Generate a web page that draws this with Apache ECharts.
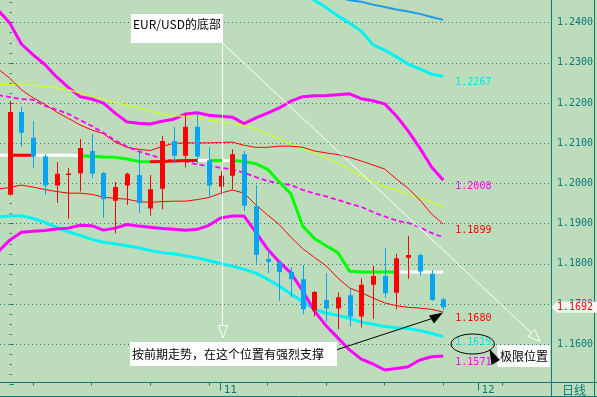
<!DOCTYPE html>
<html>
<head>
<meta charset="utf-8">
<script src="https://cdn.jsdelivr.net/npm/echarts@6.0.0/dist/echarts.min.js"></script>
<style>
html,body{margin:0;padding:0;background:#bddcbc;overflow:hidden;}
#chart{width:597px;height:397px;}
</style>
</head>
<body>
<div id="chart"></div>
<script>
// ---------- data ----------
// daily candles, index 0..37
const candleOpen  = [1.1972,1.2178,1.2114,1.2067,1.1995,1.2022,1.2025,1.2081,1.2026,1.1957,1.1995,1.2021,1.1938,1.1987,1.2106,1.2069,1.2141,1.2058,1.1992,1.2019,1.2073,1.1944,1.1812,1.1805,1.1780,1.1762,1.1684,1.1710,1.1689,1.1722,1.1669,1.1748,1.1770,1.1728,1.1815,1.1822,1.1775,1.1712];
const candleClose = [1.2178,1.2126,1.2067,1.1995,1.2024,1.2025,1.2088,1.2025,1.1961,1.1991,1.2024,1.1951,1.1986,1.2106,1.2069,1.2141,1.2067,1.1995,1.2019,1.2073,1.1945,1.1823,1.1805,1.1779,1.1762,1.1687,1.1730,1.1689,1.1717,1.1669,1.1748,1.1770,1.1727,1.1814,1.1822,1.1781,1.1710,1.1692];
const candleLow   = [1.1970,1.2092,1.2039,1.1972,1.1952,1.1912,1.1980,1.2013,1.1915,1.1876,1.1947,1.1927,1.1920,1.1936,1.2050,1.2040,1.2050,1.1967,1.1974,1.1986,1.1932,1.1801,1.1777,1.1708,1.1717,1.1675,1.1669,1.1656,1.1637,1.1644,1.1642,1.1663,1.1715,1.1687,1.1763,1.1771,1.1708,1.1685];
const candleHigh  = [1.2205,1.2191,1.2155,1.2073,1.2053,1.2039,1.2111,1.2123,1.2029,1.2004,1.2027,1.2079,1.2021,1.2118,1.2141,1.2175,1.2175,1.2090,1.2031,1.2085,1.2081,1.1996,1.1835,1.1807,1.1792,1.1797,1.1733,1.1777,1.1729,1.1739,1.1764,1.1795,1.1839,1.1825,1.1869,1.1826,1.1785,1.1716];
const candleStart = 0;

// indicator lines, index -1..37
const lineStart = -1;
const upperMagenta = [1.2432,1.2399,1.2347,1.2320,1.2296,1.2265,1.2239,1.2216,1.2210,1.2200,1.2175,1.2153,1.2150,1.2148,1.2155,1.2160,1.2173,1.2176,1.2170,1.2167,1.2165,1.2149,1.2163,1.2175,1.2188,1.2205,1.2216,1.2218,1.2219,1.2221,1.2223,1.2211,1.2206,1.2198,1.2168,1.2131,1.2088,1.2041,1.2008];
const yellowLine   = [1.2248,1.2246,1.2245,1.2244,1.2241,1.2238,1.2233,1.2225,1.2218,1.2209,1.2201,1.2195,1.2188,1.2180,1.2173,1.2169,1.2167,1.2163,1.2158,1.2154,1.2149,1.2144,1.2136,1.2123,1.2111,1.2098,1.2086,1.2076,1.2063,1.2051,1.2036,1.2019,1.2004,1.1993,1.1984,1.1974,1.1964,1.1953,1.1942];
const redUpper     = [1.2285,1.2262,1.2233,1.2213,1.2197,1.2178,1.2162,1.2146,1.2133,1.2124,1.2103,1.2090,1.2085,1.2082,1.2092,1.2100,1.2101,1.2101,1.2101,1.2102,1.2103,1.2095,1.2090,1.2090,1.2093,1.2093,1.2090,1.2081,1.2076,1.2072,1.2065,1.2056,1.2046,1.2036,1.2011,1.1988,1.1959,1.1924,1.1899];
const dashedMagenta= [1.2220,1.2215,1.2210,1.2208,1.2193,1.2184,1.2173,1.2158,1.2143,1.2126,1.2107,1.2092,1.2080,1.2071,1.2062,1.2056,1.2055,1.2047,1.2044,1.2039,1.2035,1.2027,1.2016,1.2006,1.2001,1.1996,1.1984,1.1975,1.1968,1.1959,1.1950,1.1942,1.1929,1.1918,1.1908,1.1902,1.1891,1.1877,1.1866];
const midLine      = [1.2070,1.2070,1.2070,1.2070,1.2070,1.2070,1.2070,1.2069,1.2068,1.2066,1.2065,1.2061,1.2055,1.2054,1.2055,1.2056,1.2057,1.2057,1.2057,1.2057,1.2057,1.2055,1.2049,1.2036,1.2004,1.1974,1.1894,1.1863,1.1845,1.1828,1.1782,1.1780,1.1780,1.1780,1.1780,1.1780,1.1780,1.1780,1.1780];
const redLower     = [1.1986,1.1990,1.1996,1.1991,1.1985,1.1980,1.1976,1.1976,1.1973,1.1966,1.1963,1.1961,1.1955,1.1953,1.1955,1.1956,1.1956,1.1960,1.1965,1.1976,1.1984,1.1976,1.1947,1.1922,1.1898,1.1866,1.1838,1.1816,1.1795,1.1765,1.1740,1.1729,1.1715,1.1703,1.1696,1.1692,1.1690,1.1687,1.1680];
const lowerMagenta = [1.1830,1.1859,1.1879,1.1881,1.1883,1.1887,1.1889,1.1896,1.1895,1.1884,1.1889,1.1898,1.1894,1.1891,1.1888,1.1886,1.1884,1.1886,1.1896,1.1914,1.1919,1.1919,1.1879,1.1837,1.1805,1.1777,1.1733,1.1683,1.1646,1.1616,1.1586,1.1563,1.1551,1.1536,1.1540,1.1544,1.1561,1.1569,1.1571];
const lowerCyan    = [1.1917,1.1919,1.1920,1.1913,1.1903,1.1891,1.1880,1.1871,1.1861,1.1854,1.1850,1.1845,1.1840,1.1833,1.1828,1.1825,1.1820,1.1815,1.1808,1.1801,1.1794,1.1787,1.1777,1.1762,1.1745,1.1725,1.1706,1.1687,1.1678,1.1672,1.1665,1.1655,1.1650,1.1644,1.1641,1.1639,1.1634,1.1627,1.1619];
const upperCyanStart = 25;
const upperCyan    = [1.2476,1.2456,1.2438,1.2417,1.2399,1.2379,1.2345,1.2332,1.2315,1.2297,1.2285,1.2272,1.2267];
const blueTopStart = 28;
const blueTop      = [1.2464,1.2456,1.2452,1.2445,1.2439,1.2433,1.2428,1.2422,1.2414,1.2407];

// colour change points of the middle line (x index) and its colours
const midBreaks = [0.1, 2, 6, 12, 16, 17.1, 18.1, 19.05, 32.9];
const midColors = ['#ffffff','#ff0000','#ffffff','#00ff00','#ff0000','#ffffff','#00ff00','#ffffff','#00ff00','#ffffff'];

// axis ticks
const weekTickIdx = [2,7,12,17,22,27,32,37,42];
const monthTickIdx = [18,40];
const monthTickLabels = ['11','12'];

// ---------- chart ----------
const TEAL = '#0b7a78';
const MONO = '"DejaVu Sans Mono", monospace';
const CJK = '"Noto Sans CJK SC", sans-serif';
const X_MIN = -0.828, X_MAX = 46.19;

function toXY(arr, start){ return arr.map((v,k)=>[start+k, v]); }
function lineSeries(arr, start, color, width, extra){
  const ls = {width:width};
  if (color) ls.color = color;
  return Object.assign({
    type:'line', data:toXY(arr,start), showSymbol:false, symbol:'none', silent:true,
    lineStyle:ls, z:2, clip:true
  }, extra||{});
}
function endLab(color){
  return {endLabel:{show:true, color:color, fontFamily:MONO, fontSize:10, distance:5, offset:[7,6],
    formatter:p=>p.value[1].toFixed(4)}};
}

const pieces = [];
for (let k=0;k<midColors.length;k++){
  const p = {color:midColors[k]};
  if (k>0) p.gte = midBreaks[k-1];
  if (k<midBreaks.length) p.lt = midBreaks[k];
  pieces.push(p);
}

const candleData = candleOpen.map((o,k)=>[candleStart+k, o, candleClose[k], candleLow[k], candleHigh[k]]);

const option = {
  backgroundColor:'#bddcbc',
  animation:false,
  grid:{left:0, right:46, top:-17.5, bottom:12.5, containLabel:false, outerBoundsMode:'none'},
  xAxis:[{
    type:'value', min:X_MIN, max:X_MAX, position:'bottom', offset:-2,
    axisLine:{show:false},
    axisTick:{show:true, customValues:weekTickIdx, length:3, lineStyle:{color:TEAL}},
    axisLabel:{show:false},
    splitLine:{show:false}
  },{
    type:'value', min:X_MIN, max:X_MAX, position:'bottom', offset:-2,
    axisLine:{show:false},
    axisTick:{show:true, customValues:monthTickIdx, length:8, lineStyle:{color:TEAL}},
    axisLabel:{show:true, customValues:monthTickIdx, margin:2, align:'left', padding:[0,0,0,3],
      color:TEAL, fontFamily:MONO, fontSize:11,
      formatter:v=>{const k=monthTickIdx.indexOf(Math.round(v)); return k>=0?monthTickLabels[k]:'';}},
    splitLine:{show:false}
  }],
  yAxis:{
    type:'value', position:'right', min:1.15, max:1.25, interval:0.01,
    axisLine:{show:false},
    axisTick:{show:true, length:4, lineStyle:{color:TEAL}},
    minorTick:{show:true, splitNumber:4, length:2, lineStyle:{color:TEAL}},
    axisLabel:{margin:6, color:TEAL, fontFamily:MONO, fontSize:10,
      formatter:v=>(v<1.155||v>1.245)?'':v.toFixed(4)},
    splitLine:{show:true, showMinLine:false, showMaxLine:false, lineStyle:{color:'#2b7b68', type:[1,3], width:1}}
  },
  visualMap:[{type:'piecewise', show:false, seriesIndex:6, dimension:0, pieces:pieces}],
  series:[
    lineSeries(blueTop, blueTopStart, '#1e9be6', 2),
    lineSeries(upperCyan, upperCyanStart, '#00f4f4', 3, endLab('#00e8e8')),
    lineSeries(upperMagenta, lineStart, '#ff00ff', 3, endLab('#ff00ff')),
    lineSeries(yellowLine, lineStart, '#ccff22', 1.2),
    lineSeries(redUpper, lineStart, '#ff0000', 1, endLab('#ff0000')),
    lineSeries(dashedMagenta, lineStart, '#ff00ff', 1.8, {lineStyle:{color:'#ff00ff', width:1.8, type:[5,3]}}),
    lineSeries(midLine, lineStart, null, 3),
    lineSeries(redLower, lineStart, '#ff0000', 1, endLab('#ff0000')),
    lineSeries(lowerCyan, lineStart, '#00f4f4', 3, endLab('#00e8e8')),
    lineSeries(lowerMagenta, lineStart, '#ff00ff', 3, endLab('#ff00ff')),
    {
      type:'custom', data:candleData, encode:{x:0, y:[1,2,3,4]}, z:3, silent:true, clip:true,
      renderItem:function(params, api){
        const x=api.value(0), o=api.value(1), c=api.value(2), l=api.value(3), h=api.value(4);
        const pO=api.coord([x,o]), pC=api.coord([x,c]), pL=api.coord([x,l]), pH=api.coord([x,h]);
        const color = c>o ? '#ff0000' : '#08a4f2';
        const cx = Math.round(pO[0])+0.5;
        const top=Math.min(pO[1],pC[1]), bot=Math.max(pO[1],pC[1]);
        return {type:'group', children:[
          {type:'line', shape:{x1:cx,y1:pH[1],x2:cx,y2:pL[1]}, style:{stroke:color, lineWidth:1}},
          {type:'rect', shape:{x:cx-2.5, y:top, width:5, height:Math.max(bot-top,1.5)}, style:{fill:color}}
        ]};
      }
    }
  ]
};

const chart = echarts.init(document.getElementById('chart'), null, {renderer:'canvas'});
chart.setOption(option);

const lastClose = candleClose[candleClose.length-1];
const tagY = chart.convertToPixel({yAxisIndex:0}, lastClose);

function txt(x,y,text,font,fill,z){
  return {type:'text', x:x, y:y, z:z||110, silent:true,
    style:{text:text, font:font, fill:fill, align:'left', verticalAlign:'middle'}};
}
const graphics = [
  // frame
  {type:'line', z:50, silent:true, shape:{x1:551.5,y1:0,x2:551.5,y2:397}, style:{stroke:TEAL,lineWidth:1}},
  {type:'line', z:50, silent:true, shape:{x1:594.5,y1:0,x2:594.5,y2:397}, style:{stroke:TEAL,lineWidth:1}},
  {type:'line', z:50, silent:true, shape:{x1:0,y1:382.5,x2:597,y2:382.5}, style:{stroke:TEAL,lineWidth:1}},
  {type:'line', z:50, silent:true, shape:{x1:0,y1:396.5,x2:597,y2:396.5}, style:{stroke:TEAL,lineWidth:1}},
  txt(562, 390, '日线', '12px '+CJK, TEAL, 60),
  // white trend annotations
  {type:'polyline', z:100, silent:true, shape:{points:[[222.5,43],[531.3,332.8]]}, style:{stroke:'#ffffff',lineWidth:1,fill:null}},
  {type:'polygon', z:100, silent:true, shape:{points:[[540,341.5],[527.9,336.4],[534.7,329.2]]}, style:{stroke:'#ffffff',lineWidth:1,fill:'rgba(0,0,0,0)'}},
  {type:'polyline', z:100, silent:true, shape:{points:[[222.5,43],[222.5,325]]}, style:{stroke:'#ffffff',lineWidth:1,fill:null}},
  {type:'polygon', z:100, silent:true, shape:{points:[[218.5,325.5],[227.5,325.5],[223,338]]}, style:{stroke:'#ffffff',lineWidth:1,fill:'rgba(0,0,0,0)'}},
  {type:'rect', z:101, silent:true, shape:{x:131,y:14,width:92,height:29}, style:{fill:'#ffffff'}},
  txt(133, 24, 'EUR/USD的底部', '12px '+CJK, '#000000'),
  // support annotation
  {type:'polyline', z:100, silent:true, shape:{points:[[336,350],[432,318.5]]}, style:{stroke:'#000000',lineWidth:1,fill:null}},
  {type:'polygon', z:100, silent:true, shape:{points:[[443,312.5],[429,315.5],[434,323.5]]}, style:{fill:'#000000'}},
  {type:'rect', z:101, silent:true, shape:{x:130,y:342,width:207,height:24}, style:{fill:'#ffffff'}},
  txt(132, 354, '按前期走势，在这个位置有强烈支撑', '12px '+CJK, '#000000'),
  // limit annotation
  {type:'ellipse', z:100, silent:true, shape:{cx:472.7,cy:344,rx:21.7,ry:10}, style:{stroke:'#000000',lineWidth:1,fill:'rgba(0,0,0,0)'}},
  {type:'rect', z:101, silent:true, shape:{x:497.5,y:345,width:52.5,height:22}, style:{fill:'#ffffff'}},
  {type:'polygon', z:102, silent:true, shape:{points:[[489.5,349],[491.5,365],[500,360]]}, style:{fill:'#000000'}},
  txt(500, 356, '极限位置', '12px '+CJK, '#000000'),
  // last price tag
  {type:'polygon', z:105, silent:true, shape:{points:[[551.5,tagY],[557,tagY-5.5],[597,tagY-5.5],[597,tagY+5.5],[557,tagY+5.5]]}, style:{fill:'#f6f6f0'}},
  txt(557, tagY, lastClose.toFixed(4), '10px '+MONO, '#ff0000', 106)
];
chart.setOption({graphic:graphics});
</script>
</body>
</html>
